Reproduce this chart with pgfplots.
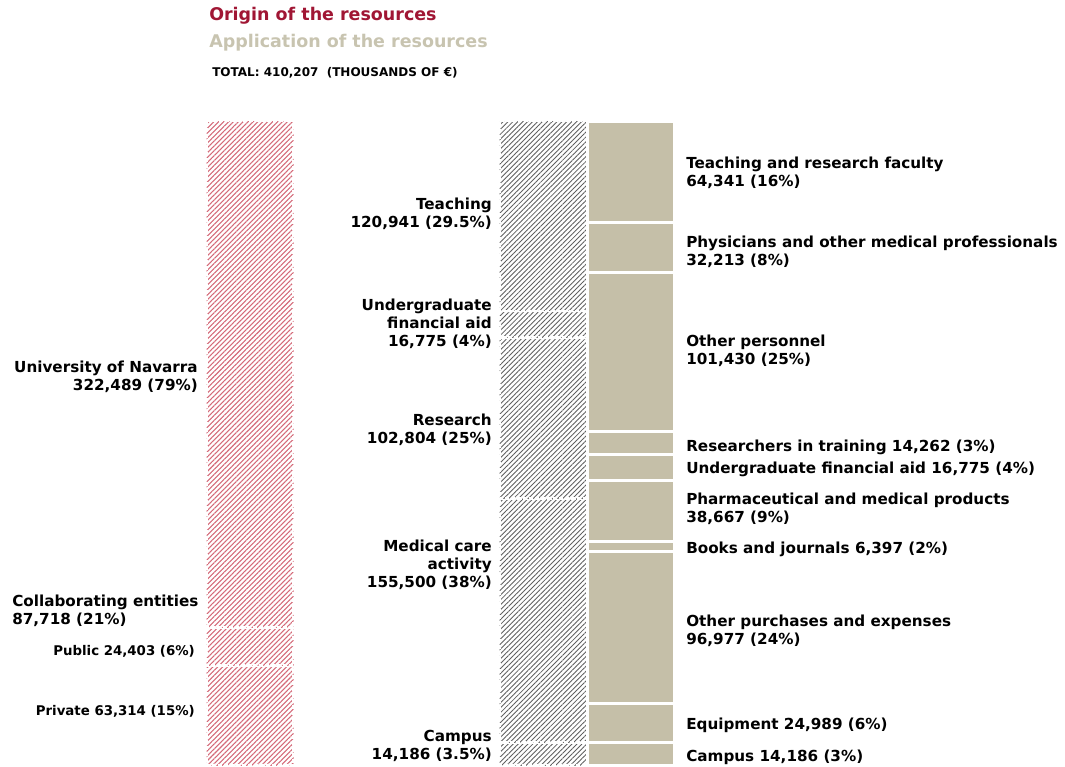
\documentclass[border=0pt]{standalone}
\usepackage{fontspec}
\setmainfont{DejaVu Sans}
\usepackage{pgfplots}
\pgfplotsset{compat=1.18}
\usetikzlibrary{patterns.meta}
\definecolor{titlered}{RGB}{160,22,52}
\definecolor{beige}{RGB}{197,191,168}
\definecolor{beigetitle}{RGB}{200,196,176}
\definecolor{hatchred}{RGB}{212,105,120}
\definecolor{hatchgray}{RGB}{95,95,95}
\pgfplotsset{col/.style={scale only axis, hide axis, ybar stacked, bar width=1,
  xmin=-0.5, xmax=0.5, ymin=0, ymax=410207, y dir=reverse, enlargelimits=false,
  height=483pt, anchor=north west, clip=false}}
\tikzset{
  redh/.style={draw=white, line width=2pt, dash pattern=on 3pt off 1.5pt,
    pattern={Lines[angle=45,distance=2.6pt,line width=0.8pt]}, pattern color=hatchred},
  grayh/.style={draw=white, line width=2pt, dash pattern=on 3pt off 1.5pt,
    pattern={Lines[angle=45,distance=2.6pt,line width=0.65pt]}, pattern color=hatchgray},
  beigef/.style={draw=white, line width=2.25pt, fill=beige},
  lab/.style={inner sep=0pt, font=\fontsize{11.4pt}{13.6pt}\selectfont\bfseries},
  slab/.style={inner sep=0pt, font=\fontsize{10pt}{12pt}\selectfont\bfseries}
}
\begin{document}
\begin{tikzpicture}
\useasboundingbox (0,0) rectangle (798.75pt,-575.25pt);
% Origin
\begin{axis}[col, at={(154.875pt,-90.75pt)}, width=65.25pt]
\addplot[redh] coordinates {(0,322489)};
\addplot[redh] coordinates {(0,24403)};
\addplot[redh] coordinates {(0,63314)};
\end{axis}
% Application (groups)
\begin{axis}[col, at={(374.625pt,-90.75pt)}, width=66.75pt]
\addplot[grayh] coordinates {(0,120941)};
\addplot[grayh] coordinates {(0,16775)};
\addplot[grayh] coordinates {(0,102804)};
\addplot[grayh] coordinates {(0,155500)};
\addplot[grayh] coordinates {(0,14186)};
\end{axis}
% Application (detail)
\begin{axis}[col, at={(440.625pt,-90.75pt)}, width=65.25pt]
\addplot[beigef] coordinates {(0,64341)};
\addplot[beigef] coordinates {(0,32213)};
\addplot[beigef] coordinates {(0,101430)};
\addplot[beigef] coordinates {(0,14262)};
\addplot[beigef] coordinates {(0,16775)};
\addplot[beigef] coordinates {(0,38667)};
\addplot[beigef] coordinates {(0,6397)};
\addplot[beigef] coordinates {(0,96977)};
\addplot[beigef] coordinates {(0,24989)};
\addplot[beigef] coordinates {(0,14186)};
\end{axis}
\begin{scope}[x=0.75pt,y=-0.75pt]
\node[anchor=west, inner sep=0pt, text=titlered, font=\fontsize{13.1pt}{15pt}\selectfont\bfseries] at (209,16) {Origin of the resources};
\node[anchor=west, inner sep=0pt, text=beigetitle, font=\fontsize{13.1pt}{15pt}\selectfont\bfseries] at (209,43) {Application of the resources};
\node[anchor=west, inner sep=0pt, font=\fontsize{9pt}{10pt}\selectfont\bfseries] at (212,73) {TOTAL: 410,207\ \ (THOUSANDS OF €)};
% left
\node[lab, anchor=east, align=right] at (198,377) {University of Navarra\\322,489 (79\%)};
\node[lab, anchor=west, align=left] at (12,611) {Collaborating entities\\87,718 (21\%)};
\node[slab, anchor=east] at (195,651) {Public 24,403 (6\%)};
\node[slab, anchor=east] at (195,711) {Private 63,314 (15\%)};
% middle
\node[lab, anchor=east, align=right] at (492,214) {Teaching\\120,941 (29.5\%)};
\node[lab, anchor=east, align=right] at (492,324) {Undergraduate\\financial aid\\16,775 (4\%)};
\node[lab, anchor=east, align=right] at (492,430) {Research\\102,804 (25\%)};
\node[lab, anchor=east, align=right] at (492,565) {Medical care\\activity\\155,500 (38\%)};
\node[lab, anchor=east, align=right] at (492,746) {Campus\\14,186 (3.5\%)};
% right
\node[lab, anchor=west, align=left] at (686,173) {Teaching and research faculty\\64,341 (16\%)};
\node[lab, anchor=west, align=left] at (686,252) {Physicians and other medical professionals\\32,213 (8\%)};
\node[lab, anchor=west, align=left] at (686,351) {Other personnel\\101,430 (25\%)};
\node[lab, anchor=west] at (686,447) {Researchers in training 14,262 (3\%)};
\node[lab, anchor=west] at (686,469) {Undergraduate financial aid 16,775 (4\%)};
\node[lab, anchor=west, align=left] at (686,509) {Pharmaceutical and medical products\\38,667 (9\%)};
\node[lab, anchor=west] at (686,549) {Books and journals 6,397 (2\%)};
\node[lab, anchor=west, align=left] at (686,631) {Other purchases and expenses\\96,977 (24\%)};
\node[lab, anchor=west] at (686,725) {Equipment 24,989 (6\%)};
\node[lab, anchor=west] at (686,757) {Campus 14,186 (3\%)};
\end{scope}
\end{tikzpicture}
\end{document}
